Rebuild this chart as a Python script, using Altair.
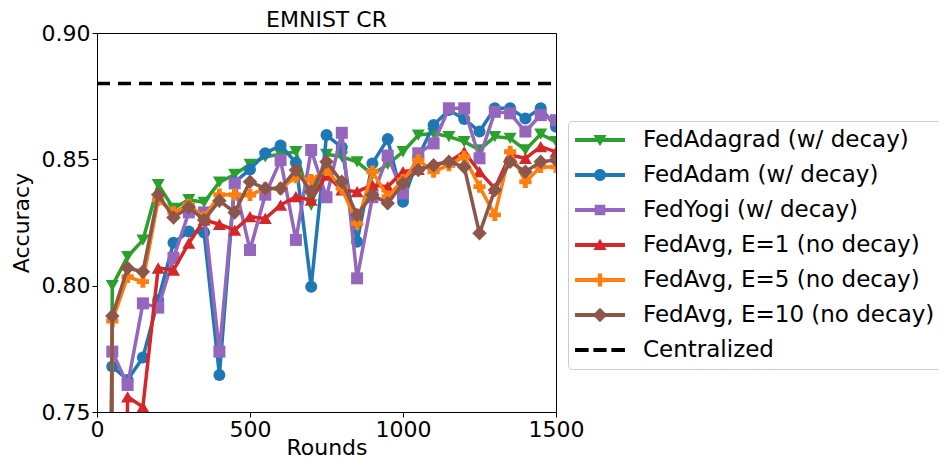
import altair as alt
import pandas as pd

rounds = [0, 50, 100, 150, 200, 250, 300, 350, 400, 450, 500, 550, 600, 650, 700, 750,
          800, 850, 900, 950, 1000, 1050, 1100, 1150, 1200, 1250, 1300, 1350, 1400, 1450, 1500]

fedadagrad = [0.02, 0.800, 0.8115, 0.818, 0.840, 0.8306, 0.834, 0.833, 0.841, 0.844, 0.848,
              0.851, 0.852, 0.853, 0.832, 0.852, 0.851, 0.849, 0.844, 0.848, 0.853,
              0.8596, 0.8603, 0.859, 0.857, 0.8537, 0.859, 0.8583, 0.8537, 0.860, 0.857]
fedadam = [0.02, 0.768, 0.7627, 0.7716, 0.7943, 0.817, 0.8214, 0.821, 0.7646, 0.841, 0.846,
           0.8524, 0.8555, 0.8487, 0.7996, 0.8596, 0.8547, 0.8174, 0.8484, 0.858, 0.8332,
           0.851, 0.8636, 0.8695, 0.866, 0.861, 0.8702, 0.8702, 0.8662, 0.8702, 0.8629]
fedyogi = [0.02, 0.7739, 0.7607, 0.793, 0.7913, 0.811, 0.829, 0.829, 0.7739, 0.8405, 0.8141,
           0.836, 0.8497, 0.8181, 0.8537, 0.835, 0.8605, 0.8029, 0.835, 0.8515, 0.8365,
           0.8524, 0.8563, 0.8702, 0.8702, 0.8504, 0.8688, 0.8682, 0.861, 0.8675, 0.8655]
fedavg_e1 = [0.02, 0.30, 0.756, 0.752, 0.807, 0.8062, 0.8168, 0.826, 0.8243, 0.822, 0.8273,
             0.8266, 0.8319, 0.8352, 0.8339, 0.8438, 0.8379, 0.8372, 0.8398, 0.8392, 0.8451,
             0.846, 0.848, 0.849, 0.853, 0.8451, 0.8385, 0.8517, 0.8504, 0.855, 0.853]
fedavg_e5 = [0.02, 0.786, 0.8035, 0.8016, 0.834, 0.829, 0.832, 0.827, 0.836, 0.836, 0.8359,
             0.8385, 0.8385, 0.843, 0.8418, 0.8458, 0.8385, 0.8246, 0.8451, 0.8352, 0.8418,
             0.8497, 0.8451, 0.8477, 0.851, 0.8392, 0.828, 0.853, 0.8411, 0.847, 0.847]
fedavg_e10 = [0.02, 0.788, 0.807, 0.8055, 0.836, 0.827, 0.831, 0.826, 0.8336, 0.829, 0.8411,
              0.8385, 0.8385, 0.8458, 0.8372, 0.849, 0.8411, 0.828, 0.8359, 0.8326, 0.8405,
              0.8458, 0.8477, 0.849, 0.847, 0.8207, 0.8379, 0.849, 0.8451, 0.849, 0.8497]
centralized_x = [0, 1500]
centralized_y = [0.88, 0.88]

names = ["FedAdagrad (w/ decay)", "FedAdam (w/ decay)", "FedYogi (w/ decay)",
         "FedAvg, E=1 (no decay)", "FedAvg, E=5 (no decay)", "FedAvg, E=10 (no decay)",
         "Centralized"]
colors = ["#2ca02c", "#1f77b4", "#9467bd", "#d62728", "#ff7f0e", "#8c564b", "#000000"]
shapes = ["triangle-down", "circle", "square", "triangle-up", "cross", "diamond"]
sizes = [170, 144, 144, 170, 150, 210]
series_vals = [fedadagrad, fedadam, fedyogi, fedavg_e1, fedavg_e5, fedavg_e10]

rows = []
for n, vals in zip(names[:6], series_vals):
    for r, v in zip(rounds, vals):
        rows.append({"round": r, "acc": v, "series": n})
df = pd.DataFrame(rows)
cdf = pd.DataFrame({"round": centralized_x, "acc": centralized_y, "series": "Centralized"})

# legend symbol paths: line + marker (unit = 12px, symbol box 24px)
LINE = "M-2.08,-0.17H2.08V0.17H-2.08Z "
legend_paths = [
    LINE + "M-0.55,-0.42L0.55,-0.42L0,0.52Z",
    LINE + "M0.5,0A0.5,0.5 0 1,1 -0.5,0A0.5,0.5 0 1,1 0.5,0Z",
    LINE + "M-0.44,-0.44H0.44V0.44H-0.44Z",
    LINE + "M-0.55,0.42L0,-0.52L0.55,0.42Z",
    LINE + "M-0.18,-0.54H0.18V-0.18H0.54V0.18H0.18V0.54H-0.18V0.18H-0.54V-0.18H-0.18Z",
    LINE + "M0,-0.6L0.6,0L0,0.6L-0.6,0Z",
    "M-2.08,-0.17H-0.95V0.17H-2.08Z M-0.55,-0.17H0.55V0.17H-0.55Z M0.95,-0.17H2.08V0.17H0.95Z",
]

FONT = "DejaVu Sans"
xscale = alt.Scale(domain=[0, 1500], nice=False)
yscale = alt.Scale(domain=[0.75, 0.90], nice=False)
xaxis = alt.Axis(values=[0, 500, 1000, 1500], title="Rounds", grid=False, format="d", labelFlush=False)
yaxis = alt.Axis(values=[0.75, 0.80, 0.85, 0.90], title="Accuracy", grid=False, format=".2f")

base = alt.Chart(df)
layers = []
X = alt.X("round:Q", scale=xscale, axis=xaxis)
Y = alt.Y("acc:Q", scale=yscale, axis=yaxis)

for n, c, s, sz in zip(names[:6], colors[:6], shapes, sizes):
    sub = base.transform_filter(alt.datum.series == n)
    layers.append(sub.mark_line(color=c, strokeWidth=3.5, clip=True).encode(x=X, y=Y))
    layers.append(sub.mark_point(color=c, shape=s, size=sz, filled=True, opacity=1, clip=True)
                  .encode(x=X, y=Y))

cent = alt.Chart(cdf).mark_line(color="black", strokeWidth=3.5, strokeDash=[13, 8], clip=True).encode(x=X, y=Y)
layers.append(cent)

legend_layer = alt.Chart(df).transform_filter(alt.datum.acc > 10).mark_point(
    filled=True, opacity=1, clip=True).encode(
    x=X, y=Y,
    color=alt.Color("series:N", scale=alt.Scale(domain=names, range=colors),
                    legend=alt.Legend(title=None, orient="none", legendX=471, legendY=88,
                                      labelFontSize=23, labelFont=FONT, labelColor="black",
                                      symbolSize=576, symbolStrokeWidth=0, symbolOpacity=1,
                                      symbolOffset=13,
                                      strokeColor="#cccccc", fillColor="white", padding=7,
                                      cornerRadius=4, rowPadding=11, labelOffset=31,
                                      labelLimit=0)),
    shape=alt.Shape("series:N", scale=alt.Scale(domain=names, range=legend_paths)),
)
layers.append(legend_layer)

chart = alt.layer(*layers).properties(
    width=459, height=379,
    autosize=alt.AutoSizeParams(type="none"),
    padding={"left": 89, "top": 25, "right": 383, "bottom": 47},
    title=alt.Title("EMNIST CR", fontSize=22, font=FONT, fontWeight="normal", color="black", offset=-10),
).configure_view(stroke="black", strokeWidth=1).configure_axis(
    labelFont=FONT, titleFont=FONT, labelFontSize=22, titleFontSize=22,
    labelColor="black", titleColor="black", titleFontWeight="normal",
    domainColor="black", tickColor="black", tickSize=5, labelPadding=2,
).configure_axisX(titlePadding=-3).configure_axisY(titlePadding=8)

chart.save("out.html", embed_options={"renderer": "svg", "actions": False})
